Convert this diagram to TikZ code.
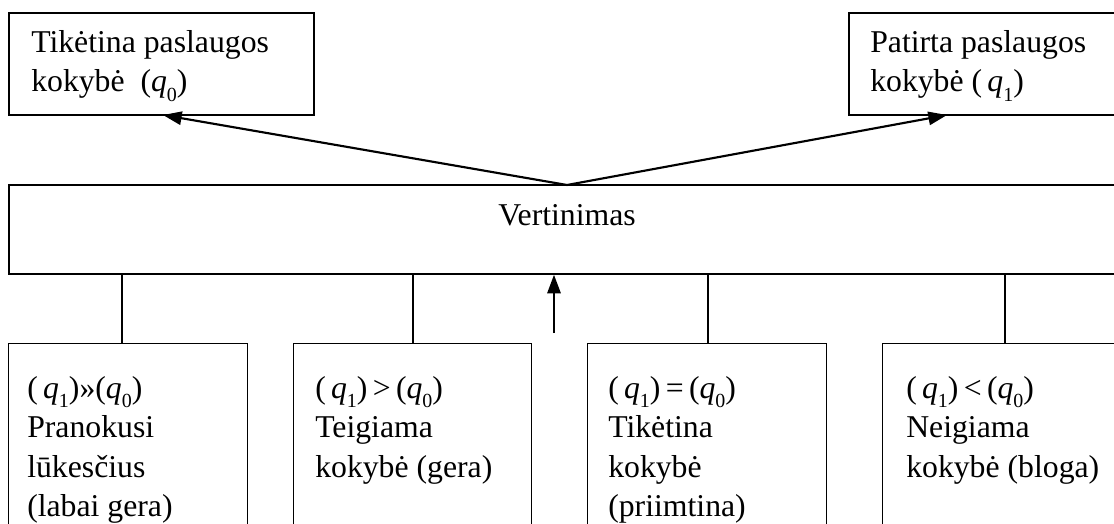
\documentclass[tikz,border=0pt]{standalone}
\usepackage{fontspec}
\setmainfont{Liberation Serif}
\usetikzlibrary{arrows.meta,fit}
\newcommand\qi[1]{\textit{q}\raisebox{-0.3em}{\fontsize{15}{15}\selectfont #1}}
\begin{document}
\begin{tikzpicture}[x=0.75pt,y=-0.75pt,
  box/.style={draw,line width=1.1pt,inner sep=0pt},
  frame/.style={inner sep=0pt},
  txt/.style={inner sep=0pt,anchor=base west,align=left,font=\fontsize{23.8}{29.6}\selectfont},
  arr/.style={line width=1.6pt,-{Triangle[length=14pt,width=10pt]}},
  link/.style={line width=1.1pt}]
\useasboundingbox (0,0) rectangle (1114,524);
\clip (0,0) rectangle (1114,524);
% boxes
\node[box,fit={(9,13)(314,115)}] (tl) {};
\node[box,fit={(849,13)(1130,115)}] (tr) {};
\node[box,fit={(9,185)(1130,274)}] (v) {};
\node[frame,fit={(9,344)(247,534)}] (b1) {};
\node[frame,fit={(294,344)(531,534)}] (b2) {};
\node[frame,fit={(588,344)(826,534)}] (b3) {};
\node[frame,fit={(883,344)(1130,534)}] (b4) {};
\foreach \b in {b1,b2,b3,b4}
  \draw[link] (\b.south west) -- (\b.north west) -- (\b.north east) -- (\b.south east);
% texts (anchor = baseline of last line)
\node[txt] (tlt) at (31,92) {Tikėtina paslaugos\\kokybė~ (\qi0)};
\node[txt] (trt) at (870,92) {Patirta paslaugos\\kokybė (\,\qi1)};
\node[font=\fontsize{23.8}{29.6}\selectfont,inner sep=0pt,anchor=base] (vt) at (567,225) {Vertinimas};
\node[txt] (b1t) at (27,516.5) {(\,\qi1)»(\qi0)\\Pranokusi\\lūkesčius\\(labai gera)};
\node[txt] (b2t) at (315,477) {(\,\qi1)\,>\,(\qi0)\\Teigiama\\kokybė (gera)};
\node[txt] (b3t) at (608,516.5) {(\,\qi1)\,=\,(\qi0)\\Tikėtina\\kokybė\\(priimtina)};
\node[txt] (b4t) at (906,477) {(\,\qi1)\,<\,(\qi0)\\Neigiama\\kokybė (bloga)};
% connectors
\coordinate (apex) at (567,185);
\coordinate (tlhit) at (163,115);
\coordinate (trhit) at (947,115);
\draw[arr] (apex) -- (tlhit);
\draw[arr] (apex) -- (trhit);
\coordinate (c1) at (122,0);
\coordinate (c2) at (413,0);
\coordinate (c3) at (708,0);
\coordinate (c4) at (1005,0);
\draw[link] (b1.north -| c1) -- (v.south -| c1);
\draw[link] (b2.north -| c2) -- (v.south -| c2);
\draw[link] (b3.north -| c3) -- (v.south -| c3);
\draw[link] (b4.north -| c4) -- (v.south -| c4);
\coordinate (us) at (554,333);
\draw[arr] (us) -- (us |- v.south);
\end{tikzpicture}
\end{document}
